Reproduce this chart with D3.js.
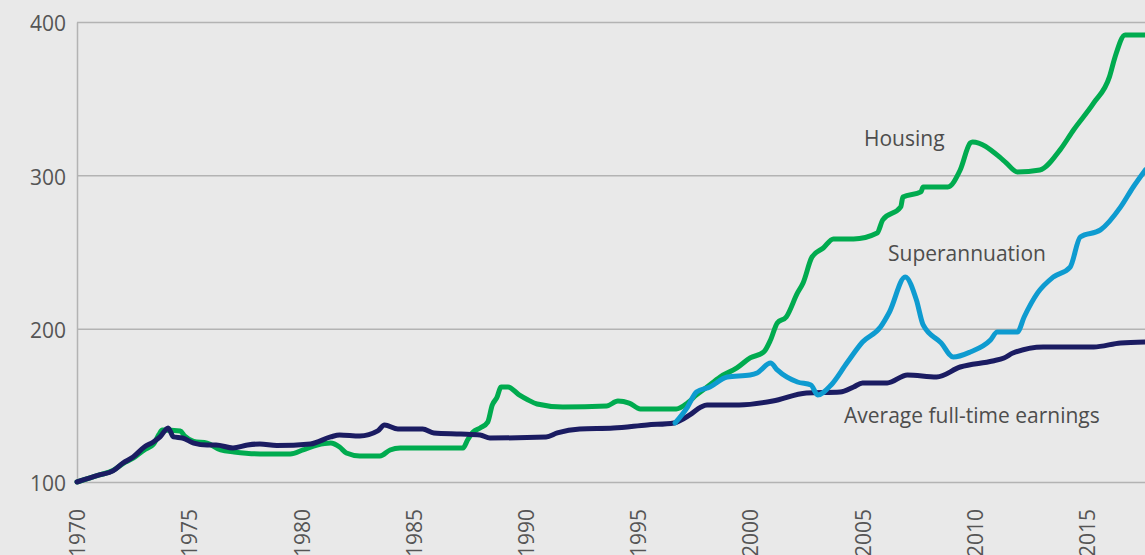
<!DOCTYPE html>
<html>
<head>
<meta charset="utf-8">
<script src="https://cdn.jsdelivr.net/npm/d3@7"></script>
<style>
  body { margin: 0; background: #e9e9e9; }
  svg { display: block; }
</style>
</head>
<body>
<div id="chart"></div>
<script>
// index values, 1970 = 100
var xTicks = [1970, 1975, 1980, 1985, 1990, 1995, 2000, 2005, 2010, 2015];
var yTicks = [100, 200, 300, 400];

var earningsYears = [1970, 1971, 1971.6, 1972.05, 1972.5, 1973, 1973.4, 1973.7, 1974.06, 1974.3, 1974.7, 1975.2, 1975.8, 1976.2, 1976.95, 1977.6, 1978.15, 1978.9, 1980.4, 1981.3, 1981.7, 1982.6, 1983.4, 1983.7, 1984.3, 1985.4, 1985.9, 1987.1, 1987.96, 1988.4, 1990.9, 1991.4, 1992.4, 1993.9, 1995.4, 1996.6, 1997.3, 1997.8, 1998.07, 1999.5, 2001.0, 2002.5, 2004.0, 2004.6, 2005.0, 2006.1, 2007.0, 2008.3, 2009.35, 2010.8, 2011.3, 2011.7, 2013.05, 2015.3, 2016.5, 2017.6];
var earningsValues = [100, 104.6, 107.2, 112.4, 116.3, 122.8, 126.1, 129.4, 135.2, 129.4, 128.7, 125.4, 124.1, 124.1, 122.2, 124.1, 124.8, 123.8, 124.8, 129.4, 130.7, 130.0, 133.3, 137.2, 134.6, 134.6, 132.0, 131.3, 130.7, 128.7, 129.4, 132.0, 134.6, 135.2, 137.2, 138.5, 143.7, 148.9, 150.2, 150.2, 152.8, 158.1, 158.7, 162.0, 164.6, 164.6, 169.8, 168.5, 175.0, 178.9, 180.9, 184.1, 188.1, 188.1, 190.7, 191.3];

var housingYears = [1970, 1971, 1971.6, 1972.05, 1972.5, 1973, 1973.4, 1973.65, 1973.8, 1974.6, 1974.8, 1975.2, 1975.8, 1976.4, 1977.0, 1978.15, 1979.5, 1980.07, 1980.7, 1981.3, 1981.7, 1982.0, 1982.6, 1983.5, 1983.95, 1984.4, 1987.2, 1987.4, 1987.65, 1987.96, 1988.3, 1988.5, 1988.7, 1988.9, 1989.2, 1989.7, 1990.1, 1990.5, 1991.65, 1993.6, 1994.1, 1994.6, 1995.1, 1996.7, 1997.2, 1997.6, 1998.07, 1998.65, 1999.4, 1999.99, 2000.6, 2000.9, 2001.2, 2001.6, 2002.1, 2002.35, 2002.75, 2003.25, 2003.7, 2004.6, 2005.65, 2005.9, 2006.7, 2006.8, 2007.6, 2007.7, 2008.8, 2009.35, 2009.8, 2009.9, 2011.1, 2011.4, 2011.9, 2012.9, 2013.8, 2014.4, 2015.3, 2016.0, 2016.25, 2016.7, 2017.6];
var housingValues = [100, 104.6, 107.5, 112, 115.5, 121, 124.5, 131, 133.9, 133.2, 130, 126.5, 125.4, 120.9, 119.6, 118.3, 118.3, 120.9, 124.1, 125.4, 122.8, 118.9, 117.0, 117.0, 120.9, 122.2, 122.2, 127.4, 132.6, 135.2, 139.1, 150.2, 154.8, 162.0, 162.0, 156.8, 153.5, 150.9, 148.9, 149.6, 152.8, 151.5, 147.6, 147.6, 151.5, 156.8, 162.0, 168.5, 174.4, 180.9, 184.8, 192.6, 203.7, 207.6, 223.3, 229.8, 246.8, 252.6, 258.5, 258.5, 262.4, 270.9, 279.4, 285.9, 289.2, 292.4, 292.4, 303.5, 321.1, 321.8, 312.0, 308.1, 302.2, 303.5, 316.6, 329.6, 347.2, 364.2, 377.2, 391.6, 391.6];

var superYears = [1996.65, 1997.2, 1997.6, 1998.2, 1998.97, 1999.99, 2000.3, 2000.9, 2001.2, 2002.1, 2002.7, 2003.0, 2003.6, 2004.3, 2005.0, 2005.8, 2006.2, 2006.9, 2007.4, 2007.7, 2008.5, 2009.04, 2009.8, 2010.7, 2011.0, 2011.9, 2012.2, 2012.8, 2013.5, 2014.25, 2014.7, 2015.6, 2016.5, 2017.06, 2017.6];
var superValues = [138.5, 148.9, 158.7, 162.0, 168.5, 169.8, 171.1, 177.6, 173.1, 165.2, 163.3, 156.8, 163.3, 177.6, 191.3, 201.1, 210.9, 233.7, 218.7, 202.4, 190.7, 181.5, 184.8, 192.6, 197.8, 197.8, 207.6, 223.3, 233.7, 240.2, 259.8, 264.4, 279.4, 292.4, 303.5];

var seriesNames = ['Housing', 'Average full-time earnings', 'Superannuation'];
var seriesColors = ['#00ab4f', '#1b1c62', '#0e9bd0'];

var svgWidth = 1145;
var svgHeight = 555;
var fontFamily = '"Open Sans", sans-serif';

var svg = d3.select('#chart')
  .append('svg')
  .attr('width', svgWidth)
  .attr('height', svgHeight)
  .style('font-family', fontFamily);

svg.append('rect')
  .attr('width', svgWidth)
  .attr('height', svgHeight)
  .attr('fill', '#e9e9e9');

var x = d3.scaleLinear().domain([1970, 2015]).range([77, 1087]);
var y = d3.scaleLinear().domain([100, 400]).range([482, 22]);

// y axis + gridlines
var yAxis = svg.append('g')
  .attr('transform', 'translate(' + x(1970) + ',0)')
  .call(d3.axisLeft(y).tickValues(yTicks).tickSize(-(svgWidth - x(1970))).tickSizeOuter(0).tickPadding(11))
  .attr('font-family', fontFamily);
yAxis.select('.domain').attr('stroke', '#b3b3b3').attr('stroke-width', 1.5);
yAxis.selectAll('.tick line').attr('stroke', '#b3b3b3').attr('stroke-width', 1.5);
yAxis.selectAll('.tick text')
  .attr('font-size', '21px')
  .attr('fill', '#555')
  .attr('dy', '0.42em');

// x axis labels
var xAxis = svg.append('g')
  .attr('transform', 'translate(0,' + y(100) + ')')
  .call(d3.axisBottom(x).tickValues(xTicks).tickSize(0).tickFormat(d3.format('d')))
  .attr('font-family', fontFamily);
xAxis.select('.domain').remove();
xAxis.selectAll('.tick text')
  .attr('transform', 'rotate(-90)')
  .attr('x', -27)
  .attr('y', 0)
  .attr('dy', '0.36em')
  .style('text-anchor', 'end')
  .attr('font-size', '21px')
  .attr('fill', '#555');

var line = d3.line()
  .x(function (d) { return x(d[0]); })
  .y(function (d) { return y(d[1]); })
  .curve(d3.curveMonotoneX);

var series = [
  d3.zip(housingYears, housingValues),
  d3.zip(earningsYears, earningsValues),
  d3.zip(superYears, superValues)
];

svg.append('g')
  .selectAll('path')
  .data(series)
  .enter()
  .append('path')
  .attr('d', line)
  .attr('fill', 'none')
  .attr('stroke', function (d, i) { return seriesColors[i]; })
  .attr('stroke-width', 5)
  .attr('stroke-linejoin', 'round')
  .attr('stroke-linecap', 'round');

// series labels
var labelPos = [[864, 146], [844, 423], [888, 261]];
svg.append('g')
  .selectAll('text')
  .data(seriesNames)
  .enter()
  .append('text')
  .attr('x', function (d, i) { return labelPos[i][0]; })
  .attr('y', function (d, i) { return labelPos[i][1]; })
  .attr('font-size', '21px')
  .attr('fill', '#4d4d4d')
  .text(function (d) { return d; });
</script>
</body>
</html>
